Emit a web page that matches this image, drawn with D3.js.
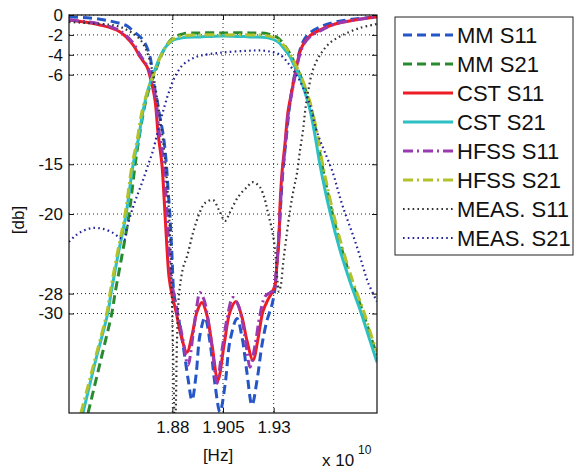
<!DOCTYPE html>
<html lang="en">
<head>
<meta charset="utf-8" />
<title>Filter response</title>
<script src="https://cdn.jsdelivr.net/npm/d3@7"></script>
<style>
body { margin: 0; background: #fff; }
text { font-family: "Liberation Sans", Arial, Helvetica, sans-serif; fill: #111; }
</style>
</head>
<body>
<script>
// frequency in units of 1e10 Hz, level in dB
var xTicks = [1.88, 1.905, 1.93];
var xTickLabels = ["1.88", "1.905", "1.93"];
var yTicks = [0, -2, -4, -6, -15, -20, -28, -30];
var yTickLabels = ["0", "-2", "-4", "-6", "-15", "-20", "-28", "-30"];

var mmS11 = [[1.8290,-0.2],[1.8394,-0.3],[1.8492,-0.6],[1.8576,-1.1],[1.8606,-1.6],[1.8655,-2.5],[1.8690,-4.2],[1.8705,-6.5],[1.8724,-8.5],[1.8739,-10.3],[1.8754,-11.9],[1.8769,-14.6],[1.8779,-17.6],[1.8788,-20.1],[1.8798,-24.1],[1.8808,-28.0],[1.8828,-30.2],[1.8853,-33.2],[1.8877,-36.5],[1.8897,-38.7],[1.8917,-36.2],[1.8936,-32.2],[1.8961,-30.4],[1.8986,-32.9],[1.9011,-37.2],[1.9035,-39.9],[1.9060,-37.2],[1.9085,-32.7],[1.9119,-30.5],[1.9144,-32.4],[1.9168,-35.9],[1.9193,-39.2],[1.9218,-36.7],[1.9242,-33.2],[1.9267,-30.7],[1.9292,-29.1],[1.9307,-27.4],[1.9316,-25.1],[1.9326,-22.1],[1.9336,-18.6],[1.9346,-15.6],[1.9361,-12.6],[1.9376,-9.6],[1.9391,-7.4],[1.9410,-5.3],[1.9430,-3.5],[1.9450,-2.5],[1.9479,-1.8],[1.9529,-1.2],[1.9603,-0.7],[1.9701,-0.4],[1.9810,-0.2]];

var mmS21 = [[1.8384,-40.0],[1.8443,-35.0],[1.8502,-29.9],[1.8517,-28.0],[1.8552,-24.1],[1.8586,-20.1],[1.8616,-15.1],[1.8640,-11.8],[1.8665,-9.0],[1.8690,-7.1],[1.8710,-6.0],[1.8739,-4.4],[1.8764,-3.3],[1.8798,-2.4],[1.8853,-1.9],[1.8936,-1.8],[1.9050,-1.8],[1.9183,-1.8],[1.9272,-1.9],[1.9321,-2.3],[1.9356,-3.1],[1.9381,-3.9],[1.9405,-4.9],[1.9430,-6.0],[1.9460,-7.7],[1.9489,-9.7],[1.9514,-12.3],[1.9539,-15.1],[1.9588,-19.8],[1.9637,-23.6],[1.9686,-26.8],[1.9736,-29.6],[1.9785,-32.7],[1.9810,-34.2]];

var cstS11 = [[1.8290,-0.5],[1.8443,-1.0],[1.8542,-1.7],[1.8606,-3.0],[1.8640,-4.2],[1.8675,-5.2],[1.8690,-6.2],[1.8714,-8.5],[1.8729,-11.8],[1.8739,-13.4],[1.8749,-15.1],[1.8764,-20.1],[1.8774,-23.6],[1.8784,-26.4],[1.8798,-28.1],[1.8818,-29.8],[1.8843,-32.2],[1.8872,-33.9],[1.8897,-32.2],[1.8922,-29.8],[1.8946,-28.9],[1.8971,-30.2],[1.8996,-33.2],[1.9025,-36.7],[1.9055,-33.2],[1.9085,-29.8],[1.9114,-28.8],[1.9144,-30.4],[1.9168,-32.7],[1.9198,-34.7],[1.9223,-32.5],[1.9247,-29.8],[1.9272,-28.6],[1.9292,-27.9],[1.9307,-27.1],[1.9316,-25.1],[1.9326,-22.6],[1.9331,-19.3],[1.9341,-15.9],[1.9356,-12.9],[1.9371,-9.7],[1.9391,-7.5],[1.9410,-5.5],[1.9430,-3.7],[1.9450,-2.8],[1.9479,-2.1],[1.9529,-1.5],[1.9603,-0.9],[1.9701,-0.5],[1.9810,-0.2]];

var cstS21 = [[1.8359,-40.0],[1.8418,-35.0],[1.8482,-29.9],[1.8497,-28.0],[1.8532,-24.1],[1.8571,-20.1],[1.8606,-15.1],[1.8631,-12.6],[1.8655,-9.7],[1.8680,-7.5],[1.8705,-6.0],[1.8739,-4.2],[1.8764,-3.3],[1.8798,-2.6],[1.8848,-2.3],[1.8936,-2.2],[1.9050,-2.1],[1.9183,-2.2],[1.9272,-2.3],[1.9321,-2.7],[1.9356,-3.5],[1.9381,-4.2],[1.9400,-5.0],[1.9420,-5.8],[1.9450,-7.5],[1.9479,-9.5],[1.9504,-12.1],[1.9529,-15.1],[1.9578,-19.8],[1.9627,-23.6],[1.9677,-26.8],[1.9726,-29.6],[1.9775,-32.7],[1.9810,-34.9]];

var hfssS11 = [[1.8290,-0.5],[1.8443,-0.9],[1.8542,-1.6],[1.8606,-2.8],[1.8640,-4.0],[1.8675,-5.1],[1.8695,-6.2],[1.8719,-8.5],[1.8734,-11.6],[1.8749,-13.6],[1.8759,-15.1],[1.8774,-20.1],[1.8784,-23.6],[1.8793,-26.4],[1.8808,-28.1],[1.8828,-30.2],[1.8853,-32.7],[1.8877,-35.2],[1.8902,-32.2],[1.8922,-29.1],[1.8936,-27.9],[1.8956,-28.6],[1.8981,-31.2],[1.9001,-34.2],[1.9020,-37.0],[1.9045,-33.7],[1.9070,-30.5],[1.9099,-28.4],[1.9124,-29.1],[1.9149,-31.2],[1.9168,-33.7],[1.9183,-35.4],[1.9208,-33.2],[1.9232,-30.2],[1.9257,-28.3],[1.9282,-27.9],[1.9302,-27.6],[1.9311,-26.1],[1.9321,-23.6],[1.9331,-20.1],[1.9341,-16.6],[1.9356,-13.4],[1.9371,-10.1],[1.9391,-7.7],[1.9410,-5.7],[1.9430,-3.9],[1.9450,-2.9],[1.9479,-2.2],[1.9529,-1.6],[1.9603,-0.9],[1.9701,-0.5],[1.9810,-0.2]];

var hfssS21 = [[1.8349,-40.0],[1.8413,-35.0],[1.8477,-29.9],[1.8492,-28.0],[1.8527,-24.1],[1.8566,-20.1],[1.8601,-15.1],[1.8626,-12.6],[1.8650,-9.7],[1.8680,-7.5],[1.8705,-6.1],[1.8739,-4.3],[1.8764,-3.3],[1.8798,-2.5],[1.8848,-2.1],[1.8936,-2.0],[1.9050,-2.0],[1.9183,-2.0],[1.9272,-2.1],[1.9321,-2.5],[1.9361,-3.3],[1.9386,-4.1],[1.9410,-5.1],[1.9430,-5.9],[1.9460,-7.5],[1.9489,-9.5],[1.9519,-12.3],[1.9543,-15.1],[1.9593,-19.8],[1.9642,-23.6],[1.9691,-26.8],[1.9741,-29.6],[1.9785,-32.4],[1.9810,-33.9]];

var measS11 = [[1.8290,-0.7],[1.8443,-0.9],[1.8527,-1.1],[1.8576,-1.5],[1.8616,-2.0],[1.8650,-2.7],[1.8680,-4.0],[1.8705,-6.0],[1.8729,-9.0],[1.8754,-12.6],[1.8769,-15.6],[1.8784,-20.1],[1.8793,-24.6],[1.8798,-28.6],[1.8803,-33.2],[1.8808,-38.7],[1.8813,-42.7],[1.8818,-38.7],[1.8823,-32.7],[1.8833,-28.1],[1.8853,-25.4],[1.8872,-24.3],[1.8902,-21.9],[1.8936,-19.8],[1.8961,-18.9],[1.9001,-18.6],[1.9030,-19.6],[1.9060,-20.7],[1.9085,-19.8],[1.9124,-18.3],[1.9168,-17.3],[1.9198,-16.8],[1.9232,-17.3],[1.9257,-18.6],[1.9272,-19.9],[1.9292,-21.6],[1.9307,-23.6],[1.9316,-26.1],[1.9326,-27.8],[1.9336,-27.1],[1.9346,-25.1],[1.9361,-22.6],[1.9381,-19.6],[1.9400,-17.4],[1.9415,-15.9],[1.9430,-13.6],[1.9445,-11.6],[1.9455,-9.7],[1.9469,-7.8],[1.9494,-5.5],[1.9529,-4.0],[1.9578,-2.8],[1.9642,-2.0],[1.9726,-1.3],[1.9810,-0.9]];

var measS21 = [[1.8290,-22.8],[1.8320,-22.2],[1.8359,-21.7],[1.8408,-21.4],[1.8458,-21.5],[1.8507,-21.9],[1.8542,-22.4],[1.8562,-22.6],[1.8576,-21.4],[1.8606,-19.3],[1.8631,-17.9],[1.8655,-16.6],[1.8680,-15.1],[1.8705,-13.6],[1.8729,-11.6],[1.8754,-9.7],[1.8779,-8.0],[1.8813,-6.2],[1.8848,-5.1],[1.8887,-4.5],[1.8936,-4.1],[1.9035,-3.8],[1.9168,-3.6],[1.9257,-3.6],[1.9331,-4.0],[1.9381,-5.1],[1.9415,-6.1],[1.9445,-7.3],[1.9479,-9.0],[1.9504,-11.1],[1.9529,-12.6],[1.9553,-13.8],[1.9593,-15.9],[1.9617,-17.6],[1.9642,-19.3],[1.9677,-21.3],[1.9711,-23.3],[1.9741,-25.3],[1.9766,-26.9],[1.9810,-28.8]];

var seriesNames = ["MM S11", "MM S21", "CST S11", "CST S21", "HFSS S11", "HFSS S21", "MEAS. S11", "MEAS. S21"];
var seriesData = [mmS11, mmS21, cstS11, cstS21, hfssS11, hfssS21, measS11, measS21];

// line styles, one per series
var styles = [
	{ color: "#2456c8", width: 3, dash: "9,5" },
	{ color: "#2a8a2e", width: 3, dash: "9,5" },
	{ color: "#ee1c25", width: 3, dash: null },
	{ color: "#2cc0c4", width: 3, dash: null },
	{ color: "#9b39b0", width: 3, dash: "10,4,2,4" },
	{ color: "#b2c22a", width: 3, dash: "10,4,2,4" },
	{ color: "#333333", width: 2.2, dash: "1.6,3.2" },
	{ color: "#23249a", width: 2.2, dash: "1.6,3.2" }
];

var w = 574;
var h = 470;
var pLeft = 69, pRight = 377, pTop = 15, pBottom = 413;

var svg = d3.select("body").append("svg")
	.attr("width", w)
	.attr("height", h);

var xScale = d3.scaleLinear().domain([1.829, 1.981]).range([pLeft, pRight]);
var yScale = d3.scaleLinear().domain([-40, 0]).range([pBottom, pTop]);

// grid
var grid = svg.append("g").attr("stroke", "#222").attr("stroke-width", 1).attr("stroke-dasharray", "1,3");
grid.selectAll(".gx").data(xTicks).enter().append("line")
	.attr("x1", function(d) { return xScale(d); })
	.attr("x2", function(d) { return xScale(d); })
	.attr("y1", pTop).attr("y2", pBottom);
grid.selectAll(".gy").data(yTicks).enter().append("line")
	.attr("y1", function(d) { return yScale(d); })
	.attr("y2", function(d) { return yScale(d); })
	.attr("x1", pLeft).attr("x2", pRight);

svg.append("clipPath").attr("id", "plot-area")
	.append("rect")
	.attr("x", pLeft).attr("y", pTop)
	.attr("width", pRight - pLeft).attr("height", pBottom - pTop);

var line = d3.line()
	.x(function(d) { return xScale(d[0]); })
	.y(function(d) { return yScale(d[1]); })
	.curve(d3.curveCatmullRom.alpha(0.5));

svg.append("g").attr("clip-path", "url(#plot-area)")
	.selectAll("path")
	.data(seriesData)
	.enter()
	.append("path")
	.attr("d", line)
	.attr("fill", "none")
	.attr("stroke", function(d, i) { return styles[i].color; })
	.attr("stroke-width", function(d, i) { return styles[i].width; })
	.attr("stroke-dasharray", function(d, i) { return styles[i].dash; })
	.attr("stroke-linejoin", "round");

// axes (ticks inward, matlab style)
var xAxis = d3.axisBottom(xScale).tickValues(xTicks)
	.tickFormat(function(d, i) { return xTickLabels[i]; })
	.tickSizeInner(-5).tickSizeOuter(0).tickPadding(8);
var yAxis = d3.axisLeft(yScale).tickValues(yTicks)
	.tickFormat(function(d, i) { return yTickLabels[i]; })
	.tickSizeInner(-5).tickSizeOuter(0).tickPadding(6);

var gx = svg.append("g").attr("transform", "translate(0," + pBottom + ")").call(xAxis);
var gy = svg.append("g").attr("transform", "translate(" + pLeft + ",0)").call(yAxis);
svg.append("g").attr("transform", "translate(0," + pTop + ")")
	.call(d3.axisTop(xScale).tickValues(xTicks).tickFormat("").tickSizeInner(-5).tickSizeOuter(0));
svg.append("g").attr("transform", "translate(" + pRight + ",0)")
	.call(d3.axisRight(yScale).tickValues(yTicks).tickFormat("").tickSizeInner(-5).tickSizeOuter(0));
svg.selectAll(".domain").remove();
svg.selectAll(".tick line").attr("stroke", "#111");
gx.selectAll("text").attr("font-size", 17).attr("font-family", null);
gy.selectAll("text").attr("font-size", 17).attr("font-family", null);

svg.append("rect")
	.attr("x", pLeft).attr("y", pTop)
	.attr("width", pRight - pLeft).attr("height", pBottom - pTop)
	.attr("fill", "none").attr("stroke", "#111").attr("stroke-width", 1.2);

// axis labels
svg.append("text")
	.attr("transform", "translate(18,220) rotate(-90)")
	.attr("text-anchor", "middle").attr("dy", "0.35em")
	.attr("font-size", 17)
	.text("[db]");
svg.append("text")
	.attr("x", 218).attr("y", 461)
	.attr("text-anchor", "middle").attr("font-size", 17)
	.text("[Hz]");
svg.append("text")
	.attr("x", 322).attr("y", 466).attr("font-size", 17)
	.text("x 10");
svg.append("text")
	.attr("x", 358).attr("y", 454).attr("font-size", 12)
	.text("10");

// legend
var legend = svg.append("g");
legend.append("rect")
	.attr("x", 395).attr("y", 17).attr("width", 178).attr("height", 238)
	.attr("fill", "#fff").attr("stroke", "#222").attr("stroke-width", 1);
var item = legend.selectAll(".item").data(seriesNames).enter().append("g")
	.attr("transform", function(d, i) { return "translate(0," + (35 + i * 29) + ")"; });
item.append("line")
	.attr("x1", 403).attr("x2", 453)
	.attr("stroke", function(d, i) { return styles[i].color; })
	.attr("stroke-width", function(d, i) { return styles[i].width; })
	.attr("stroke-dasharray", function(d, i) { return styles[i].dash; });
item.append("text")
	.attr("x", 457).attr("dy", "0.36em")
	.attr("font-size", 22)
	.text(function(d) { return d; });
</script>
</body>
</html>
